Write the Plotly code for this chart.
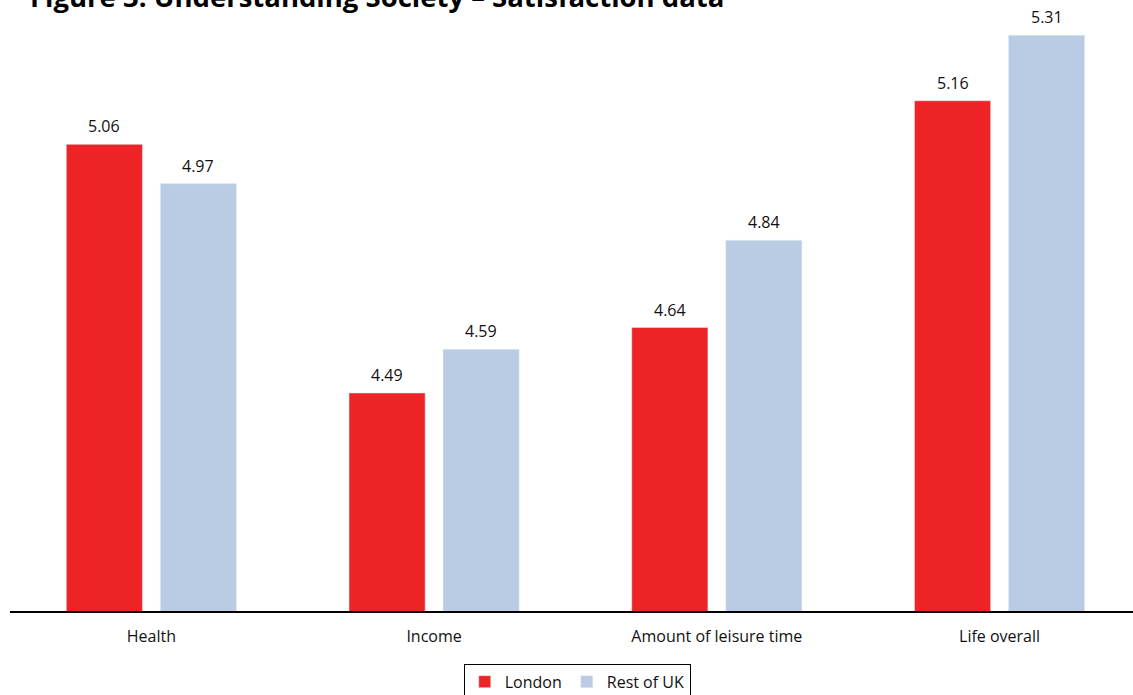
import plotly.graph_objects as go

categories = ["Health", "Income", "Amount of leisure time", "Life overall"]
london = [5.06, 4.49, 4.64, 5.16]
rest_of_uk = [4.97, 4.59, 4.84, 5.31]
title_text = "Figure 3: Understanding Society \u2013 Satisfaction data"

RED = "#EE2326"
BLUE = "#B9CCE4"
FONT = "'Open Sans', sans-serif"
BARGAP = 0.335
HALF_SLOT = (1 - BARGAP) / 4  # offset of each bar centre from its category centre

fig = go.Figure()
fig.add_trace(go.Bar(name="London", x=categories, y=london, marker_color=RED))
fig.add_trace(go.Bar(name="Rest of UK", x=categories, y=rest_of_uk, marker_color=BLUE))

# value labels sitting above each bar
for series, sign in ((london, -1), (rest_of_uk, 1)):
    for i, v in enumerate(series):
        fig.add_annotation(
            x=i + sign * HALF_SLOT, y=v, text=f"{v:.2f}", showarrow=False,
            xanchor="center", yanchor="bottom", yshift=5,
            font=dict(family=FONT, size=16, color="#111111"),
        )

fig.add_annotation(
    text=f"<b>{title_text}</b>", xref="paper", yref="paper",
    x=0.016, y=0.972, xanchor="left", yanchor="bottom", showarrow=False,
    font=dict(family=FONT, size=27.5, color="#000000"),
)

fig.update_layout(
    width=1133, height=695,
    margin=dict(l=10, r=0, t=0, b=84),
    paper_bgcolor="white", plot_bgcolor="white",
    font=dict(family=FONT, size=16, color="#111111"),
    barmode="group", bargap=BARGAP, bargroupgap=0.19,
    showlegend=True,
    legend=dict(
        orientation="h", xref="container", yref="container",
        x=0.5095, y=0.045, xanchor="center", yanchor="top",
        bordercolor="#000000", borderwidth=1,
        font=dict(size=16), itemwidth=30, tracegroupgap=0,
    ),
    xaxis=dict(showline=True, linecolor="#000000", linewidth=1.5,
               ticks="", tickfont=dict(size=16), ticklabelstandoff=10,
               range=[-0.5, 3.472]),
    yaxis=dict(range=[3.99, 5.391], visible=False, showgrid=False),
)

fig.write_html("out.html")
